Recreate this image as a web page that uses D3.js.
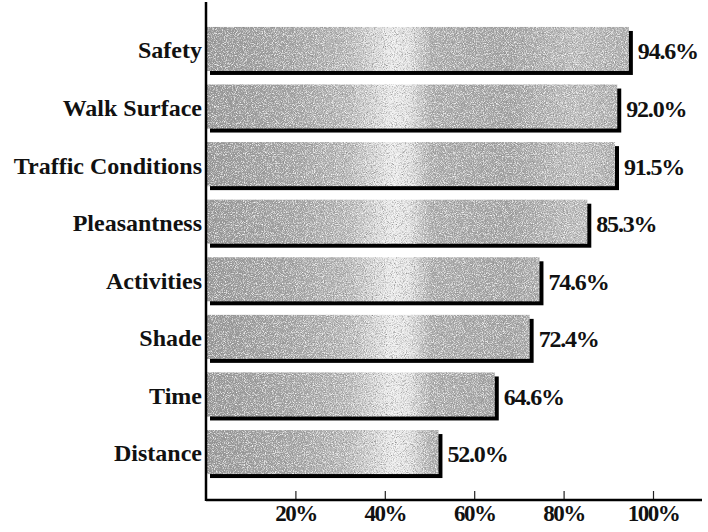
<!DOCTYPE html>
<html>
<head>
<meta charset="utf-8">
<script src="https://cdn.jsdelivr.net/npm/d3@7"></script>
<style>
  html, body { margin: 0; padding: 0; background: #fff; }
  svg { display: block; }
  text { font-family: "Liberation Serif", "Times New Roman", serif; font-weight: bold; fill: #111; }
</style>
</head>
<body>
<div id="chart"></div>
<script>
const categories = ["Safety", "Walk Surface", "Traffic Conditions", "Pleasantness", "Activities", "Shade", "Time", "Distance"];
const values = [94.6, 92.0, 91.5, 85.3, 74.6, 72.4, 64.6, 52.0];
const valueLabels = ["94.6%", "92.0%", "91.5%", "85.3%", "74.6%", "72.4%", "64.6%", "52.0%"];
const tickValues = [20, 40, 60, 80, 100];
const tickLabels = ["20%", "40%", "60%", "80%", "100%"];

const W = 708, H = 532;
const svg = d3.select("#chart").append("svg").attr("width", W).attr("height", H);

const x = d3.scaleLinear().domain([0, 100]).range([206, 653]);
const y = d3.scaleBand().domain(categories).range([21.2, 479.8]).paddingInner(0.236).paddingOuter(0.1);

const defs = svg.append("defs");
const grad = defs.append("linearGradient").attr("id", "barGrad")
  .attr("gradientUnits", "userSpaceOnUse").attr("x1", 206).attr("x2", 640).attr("y1", 0).attr("y2", 0);
[[0, "#9a9a9a"], [0.2, "#a8a8a8"], [0.33, "#bcbcbc"], [0.43, "#ececec"], [0.47, "#e2e2e2"], [0.52, "#b0b0b0"], [0.7, "#a6a6a6"], [0.85, "#c0c0c0"], [1, "#acacac"]]
  .forEach(([o, c]) => grad.append("stop").attr("offset", o).attr("stop-color", c));

const filt = defs.append("filter").attr("id", "grain").attr("x", 0).attr("y", 0).attr("width", 1).attr("height", 1);
filt.append("feTurbulence").attr("type", "fractalNoise").attr("baseFrequency", 1.1).attr("numOctaves", 2).attr("seed", 7).attr("result", "noise");
filt.append("feColorMatrix").attr("in", "noise").attr("type", "matrix")
  .attr("values", "0 0 0 0 0.25  0 0 0 0 0.25  0 0 0 0 0.25  0 0 0 -2.6 1.3").attr("result", "dark");
filt.append("feColorMatrix").attr("in", "noise").attr("type", "matrix")
  .attr("values", "0 0 0 0 1  0 0 0 0 1  0 0 0 0 1  0 0 0 2.6 -1.3").attr("result", "light");
filt.append("feComposite").attr("in", "dark").attr("in2", "SourceGraphic").attr("operator", "in").attr("result", "d2");
filt.append("feComposite").attr("in", "light").attr("in2", "SourceGraphic").attr("operator", "in").attr("result", "l2");
const merge = filt.append("feMerge");
merge.append("feMergeNode").attr("in", "SourceGraphic");
merge.append("feMergeNode").attr("in", "d2");
merge.append("feMergeNode").attr("in", "l2");

const bars = svg.append("g").selectAll("g").data(categories).join("g");
// shadow
bars.append("rect")
  .attr("x", d => x(0) + 4)
  .attr("y", d => y(d) + 4)
  .attr("width", (d, i) => x(values[i]) - x(0))
  .attr("height", y.bandwidth())
  .attr("fill", "#000");
// fill
bars.append("rect")
  .attr("x", x(0))
  .attr("y", d => y(d))
  .attr("width", (d, i) => x(values[i]) - x(0))
  .attr("height", y.bandwidth())
  .attr("fill", "url(#barGrad)")
  .attr("filter", "url(#grain)");

// value labels
bars.append("text")
  .attr("x", (d, i) => x(values[i]) + 9)
  .attr("y", d => y(d) + y.bandwidth() / 2 + 2)
  .attr("dy", "0.35em")
  .attr("font-size", 24)
  .attr("letter-spacing", -1.2)
  .text((d, i) => valueLabels[i]);

// category labels
svg.append("g").selectAll("text").data(categories).join("text")
  .attr("x", 202)
  .attr("y", d => y(d) + y.bandwidth() / 2 + 1)
  .attr("dy", "0.35em")
  .attr("text-anchor", "end")
  .attr("font-size", 24)
  .text(d => d);

// x axis
const xAxis = d3.axisBottom(x).tickValues(tickValues).tickSizeInner(-9).tickSizeOuter(0).tickPadding(5)
  .tickFormat((d, i) => tickLabels[i]);
const gx = svg.append("g").attr("transform", "translate(0,500)").call(xAxis);
gx.select(".domain").remove();
gx.selectAll(".tick line").attr("stroke", "#222").attr("stroke-width", 1.2);
gx.selectAll(".tick text").attr("font-size", 23).attr("letter-spacing", -1.5)
  .attr("font-family", "Liberation Serif, serif").attr("font-weight", "bold").attr("fill", "#111");

// axis lines
svg.append("line").attr("x1", x(0)).attr("x2", 702).attr("y1", 500).attr("y2", 500)
  .attr("stroke", "#000").attr("stroke-width", 2.5);
svg.append("line").attr("x1", x(0)).attr("x2", x(0)).attr("y1", 2).attr("y2", 501)
  .attr("stroke", "#000").attr("stroke-width", 2.5);
</script>
</body>
</html>
